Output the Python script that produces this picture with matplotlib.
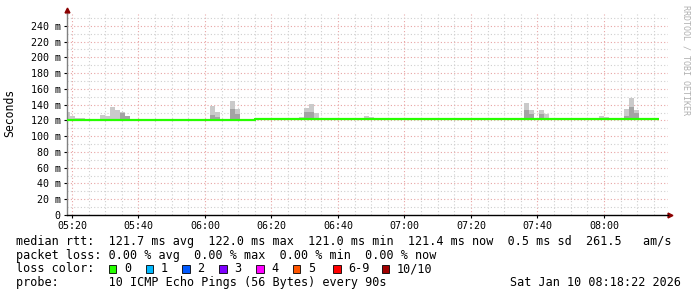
import matplotlib
matplotlib.use("Agg")
from matplotlib import pyplot as plt
from matplotlib.patches import Rectangle
from matplotlib.ticker import FixedLocator, FuncFormatter

W, H = 697, 297
MONO = "DejaVu Sans Mono"


def minutes(hms):
    parts = [int(p) for p in hms.split(":")]
    while len(parts) < 3:
        parts.append(0)
    h, m, s = parts
    return h * 60 + m + s / 60


# smoke slots (90 s each): start time, lighter top, darker top (None = none)
smoke_times = ["05:17:54", "05:19:24", "05:20:54", "05:22:24",
               "05:28:24", "05:29:54", "05:31:24", "05:32:54", "05:34:24", "05:35:54",
               "06:01:24", "06:02:54", "06:07:24", "06:08:54",
               "06:28:24", "06:29:54", "06:31:24", "06:32:54",
               "06:47:54", "06:49:24",
               "07:35:54", "07:37:24", "07:40:24", "07:41:54",
               "07:58:24", "07:59:54",
               "08:05:54", "08:07:24", "08:08:54"]
smoke_light = [130.5, 125.5, 123.0, 123.0,
               127.0, 125.5, 137.0, 133.0, 131.0, 126.0,
               138.0, 131.0, 145.0, 134.5,
               124.5, 136.0, 141.0, 129.5,
               125.5, 124.5,
               142.0, 133.0, 133.0, 128.0,
               125.5, 124.0,
               134.5, 149.0, 133.0]
smoke_dark = [None, None, None, None,
              None, None, None, None, 130.0, 126.0,
              127.0, 124.0, 134.5, 128.0,
              None, 130.5, 130.5, None,
              None, None,
              133.0, 128.0, 128.0, None,
              None, None,
              125.5, 137.0, 129.5]
smoke_base = 120.0

# median rtt steps
median_times = ["05:18:30", "06:14:54", "08:14:54", "08:16:24"]
median_values = [121.0, 122.0, 121.4, 121.4]

x_tick_labels = ["05:20", "05:40", "06:00", "06:20", "06:40",
                 "07:00", "07:20", "07:40", "08:00"]
y_tick_values = [0, 20, 40, 60, 80, 100, 120, 140, 160, 180, 200, 220, 240]

loss_labels = ["0", "1", "2", "3", "4", "5", "6-9", "10/10"]
loss_colors = ["#26ff00", "#00b8ff", "#0059ff", "#7e00ff",
               "#ff00ff", "#ff5500", "#ff0000", "#a10000"]
loss_box_x = [108.7, 145.7, 182.3, 219.3, 256.0, 292.7, 333.0, 381.7]

legend_lines = [
    "median rtt:  121.7 ms avg  122.0 ms max  121.0 ms min  121.4 ms now  0.5 ms sd  261.5   am/s",
    "packet loss: 0.00 % avg  0.00 % max  0.00 % min  0.00 % now",
    "loss color:",
    "probe:       10 ICMP Echo Pings (56 Bytes) every 90s",
]
stamp = "Sat Jan 10 08:18:22 2026"

fig = plt.figure(figsize=(W / 100, H / 100), dpi=100)
fig.patch.set_facecolor("white")
left, right, top, bottom = 67, 668, 14, 215
ax = fig.add_axes([left / W, 1 - bottom / H, (right - left) / W, (bottom - top) / H])

# smoke
xs = [minutes(t) for t in smoke_times]
ax.bar(xs, [v - smoke_base for v in smoke_light], width=1.5, bottom=smoke_base,
       align="edge", color="#cacaca", linewidth=0, zorder=2)
dx = [x for x, d in zip(xs, smoke_dark) if d is not None]
dh = [d - smoke_base for d in smoke_dark if d is not None]
ax.bar(dx, dh, width=1.5, bottom=smoke_base, align="edge",
       color="#a3a3a3", linewidth=0, zorder=2)

# median line
mx = [minutes(t) for t in median_times]
ax.step(mx, median_values, where="post", color="#26ff00", lw=1.6, zorder=3,
        solid_capstyle="butt")

ax.set_xlim(minutes("05:18:30"), minutes("08:19:15"))
ax.set_ylim(0, 255)

major_x = [minutes(t) for t in x_tick_labels]
ax.xaxis.set_major_locator(FixedLocator(major_x))
ax.xaxis.set_major_formatter(FuncFormatter(lambda v, p: "%02d:%02d" % divmod(int(round(v)), 60)))
ax.xaxis.set_minor_locator(FixedLocator([minutes("05:20") + 5 * i for i in range(-1, 37)]))
ax.yaxis.set_major_locator(FixedLocator(y_tick_values))
ax.yaxis.set_major_formatter(FuncFormatter(lambda v, p: "0" if v == 0 else "%d m" % v))
ax.yaxis.set_minor_locator(FixedLocator([10 + 20 * i for i in range(13)]))

ax.grid(which="major", color="#e8a4a4", ls=(0, (1, 2)), lw=0.8, zorder=1)
ax.grid(which="minor", color="#cfcfcf", ls=(0, (1, 2)), lw=0.8, zorder=1)
ax.set_axisbelow(True)

ax.tick_params(which="major", length=2, width=0.8, pad=2.5, labelsize=7.2)
ax.tick_params(which="minor", length=0)
for lab in ax.get_xticklabels() + ax.get_yticklabels():
    lab.set_fontfamily(MONO)

for s in ("top", "right"):
    ax.spines[s].set_visible(False)
ax.spines["left"].set_color("#808080")
ax.spines["bottom"].set_color("black")
ax.spines["left"].set_linewidth(1.0)
ax.spines["bottom"].set_linewidth(1.0)

# axis arrows
ax.plot([0, 0], [1.0, 1.02], transform=ax.transAxes, color="#808080", lw=1.0, clip_on=False)
ax.plot(0, 1.02, marker="^", ms=3.5, color="#8b0000", transform=ax.transAxes, clip_on=False)
ax.plot(1.003, 0, marker=">", ms=3.5, color="#8b0000", transform=ax.transAxes, clip_on=False)

fig.text(10 / W, 1 - 113 / H, "Seconds", rotation=90, ha="center", va="center",
         fontsize=8.3, family=MONO)
fig.text(686 / W, 1 - 60 / H, "RRDTOOL / TOBI OETIKER", rotation=270, ha="center",
         va="center", fontsize=6, family=MONO, color="#b0b0b0")

ys = [241.5, 255.0, 268.8, 282.5]
for y, line in zip(ys, legend_lines):
    fig.text(16 / W, 1 - y / H, line, ha="left", va="center", fontsize=8.47, family=MONO)

for bx, lab, col in zip(loss_box_x, loss_labels, loss_colors):
    fig.patches.append(Rectangle((bx / W, 1 - 273 / H), 7.5 / W, 8 / H,
                                 transform=fig.transFigure, facecolor=col,
                                 edgecolor="black", lw=0.6))
    fig.text((bx + 15.3) / W, 1 - 268.8 / H, lab, ha="left", va="center",
             fontsize=8.47, family=MONO)

fig.text(681 / W, 1 - 282.5 / H, stamp, ha="right", va="center", fontsize=8.47, family=MONO)

fig.savefig("out.png", dpi=100)
